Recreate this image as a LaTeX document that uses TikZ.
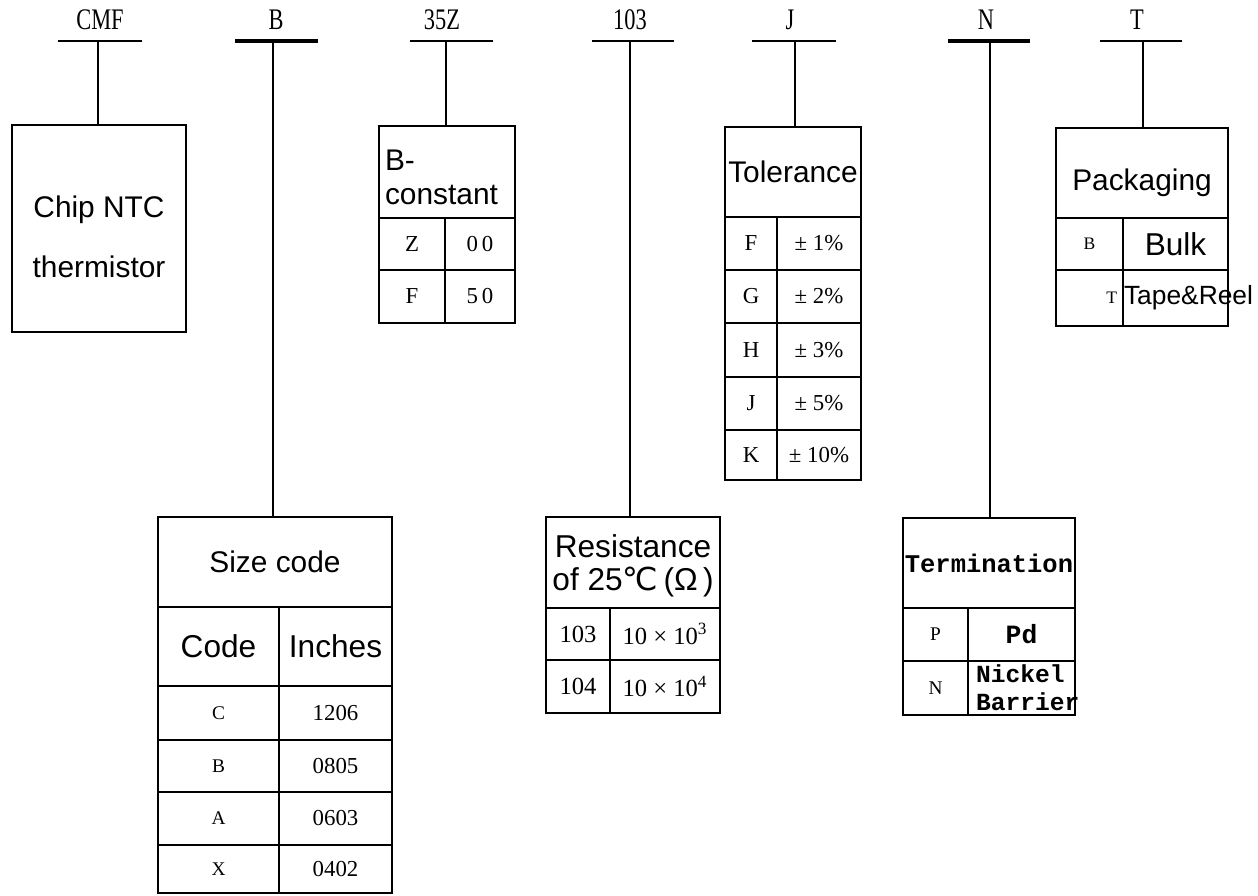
\documentclass[tikz,border=0pt]{standalone}
\usepackage{fontspec}
\setmainfont{Liberation Sans}
\newfontfamily\codefont[FakeStretch=0.75]{Liberation Serif}
\newfontfamily\entryfont{Liberation Serif}
\newfontfamily\termfont{Liberation Mono}
\newfontfamily\symfont{DejaVu Sans}
\usetikzlibrary{positioning}

\begin{document}
\begin{tikzpicture}[
  x=0.02cm, y=-0.02cm,
  font=\fontsize{17}{19}\selectfont,
  codelabel/.style={font=\codefont\fontsize{17}{19}\selectfont, inner sep=0pt},
  bar/.style={line width=1.7pt},
  stem/.style={line width=1.3pt},
  headbox/.style 2 args={rectangle, draw=black, line width=1.3pt, inner sep=0pt, minimum width=#1*0.2mm, minimum height=#2*0.2mm},
  cellbox/.style 2 args={rectangle, draw=black, line width=1.3pt, inner sep=0pt, minimum width=#1*0.2mm, minimum height=#2*0.2mm, font=\entryfont\fontsize{13}{15}\selectfont}
]
\useasboundingbox (0,0) rectangle (1258,896);

% code letters on top
\node[codelabel] (lCMF) at (100,20) {CMF};
\node[codelabel] (lB) at (276,20) {B};
\node[codelabel] (lBc) at (442,20) {35Z};
\node[codelabel] (lRes) at (630,20) {103};
\node[codelabel] (lTol) at (790,20) {J};
\node[codelabel] (lTerm) at (986,20) {N};
\node[codelabel] (lPack) at (1137,20) {T};

\coordinate (jCMF) at (98,41);
\coordinate (jB) at (273,41);
\coordinate (jBc) at (446,41);
\coordinate (jRes) at (630,41);
\coordinate (jTol) at (795,41);
\coordinate (jTerm) at (990,41);
\coordinate (jPack) at (1143,41);

\draw[bar] (jCMF) ++(-40,0) -- ++(84,0);
\draw[bar, line width=2.2pt] (jB) ++(-38,0) -- ++(83,0);
\draw[bar] (jBc) ++(-36,0) -- ++(83,0);
\draw[bar] (jRes) ++(-38,0) -- ++(82,0);
\draw[bar] (jTol) ++(-43,0) -- ++(84,0);
\draw[bar, line width=2pt] (jTerm) ++(-42,0) -- ++(82,0);
\draw[bar] (jPack) ++(-43,0) -- ++(82,0);

% CMF
\node[headbox={174}{207}, align=center, font=\fontsize{17}{34}\selectfont] (bCMF) at (99,228.5) {\rule{0pt}{22pt}Chip NTC\\thermistor};

% size code
\node[headbox={234}{90}] (bSize) at (275,562) {Size code};
\node[cellbox={121}{79}, font=\fontsize{18}{20}\selectfont] (sz0a) at (218.5,646.5) {Code};
\node[cellbox={113}{79}, font=\fontsize{18}{20}\selectfont] (sz0b) at (335.5,646.5) {Inches};
\node[cellbox={121}{54}, font=\entryfont\fontsize{11}{13}\selectfont] (sz1a) at (218.5,713) {C};
\node[cellbox={113}{54}] (sz1b) at (335.5,713) {1206};
\node[cellbox={121}{52}, font=\entryfont\fontsize{11}{13}\selectfont] (sz2a) at (218.5,766) {B};
\node[cellbox={113}{52}] (sz2b) at (335.5,766) {0805};
\node[cellbox={121}{53}, font=\entryfont\fontsize{11}{13}\selectfont] (sz3a) at (218.5,818.5) {A};
\node[cellbox={113}{53}] (sz3b) at (335.5,818.5) {0603};
\node[cellbox={121}{48}, font=\entryfont\fontsize{11}{13}\selectfont] (sz4a) at (218.5,869) {X};
\node[cellbox={113}{48}] (sz4b) at (335.5,869) {0402};

% B-constant
\node[headbox={136}{92}, align=left, text width=24.8mm, inner xsep=1.2mm, font=\fontsize{17}{19}\selectfont] (bBc) at (447,172) {\rule{0pt}{18pt}B-\\constant};
\node[cellbox={66}{52}] (bc1a) at (412,244) {Z};
\node[cellbox={70}{52}] (bc1b) at (480,244) {0\,0};
\node[cellbox={66}{53}] (bc2a) at (412,296.5) {F};
\node[cellbox={70}{53}] (bc2b) at (480,296.5) {5\,0};

% resistance
\node[headbox={174}{91}, align=center, font=\fontsize{18}{19}\selectfont] (bRes) at (633,562.5) {\rule{0pt}{17pt}Resistance\\of 25{\symfont ℃}\,(Ω\,)};
\node[cellbox={64}{52}, font=\entryfont\fontsize{14}{16}\selectfont] (rs1a) at (578,634) {103};
\node[cellbox={110}{52}, font=\entryfont\fontsize{14}{16}\selectfont] (rs1b) at (665,634) {10 × 10\textsuperscript{3}};
\node[cellbox={64}{53}, font=\entryfont\fontsize{14}{16}\selectfont] (rs2a) at (578,686.5) {104};
\node[cellbox={110}{53}, font=\entryfont\fontsize{14}{16}\selectfont] (rs2b) at (665,686.5) {10 × 10\textsuperscript{4}};

% tolerance
\node[headbox={136}{90}] (bTol) at (793,172) {Tolerance};
\node[cellbox={52}{53}] (tl1a) at (751,243.5) {F};
\node[cellbox={84}{53}] (tl1b) at (819,243.5) {± 1\%};
\node[cellbox={52}{53}] (tl2a) at (751,296.5) {G};
\node[cellbox={84}{53}] (tl2b) at (819,296.5) {± 2\%};
\node[cellbox={52}{54}] (tl3a) at (751,350) {H};
\node[cellbox={84}{54}] (tl3b) at (819,350) {± 3\%};
\node[cellbox={52}{53}] (tl4a) at (751,403.5) {J};
\node[cellbox={84}{53}] (tl4b) at (819,403.5) {± 5\%};
\node[cellbox={52}{50}] (tl5a) at (751,455) {K};
\node[cellbox={84}{50}] (tl5b) at (819,455) {± 10\%};

% termination
\node[headbox={172}{90}, font=\termfont\bfseries\fontsize{14.5}{16}\selectfont] (bTerm) at (989,563) {Termination};
\node[cellbox={65}{53}, font=\entryfont\fontsize{11}{13}\selectfont] (tm1a) at (935.5,634.5) {P};
\node[cellbox={107}{53}, font=\termfont\bfseries\fontsize{15}{16}\selectfont] (tm1b) at (1021.5,634.5) {Pd};
\node[cellbox={65}{54}, font=\entryfont\fontsize{11}{13}\selectfont] (tm2a) at (935.5,688) {N};
\node[cellbox={107}{54}, align=left, text width=18.2mm, inner xsep=1.6mm, font=\termfont\bfseries\fontsize{14}{16}\selectfont] (tm2b) at (1021.5,688) {Nickel\\Barrier};

% packaging
\node[headbox={172}{90}] (bPack) at (1142,173) {\rule{0pt}{24pt}Packaging};
\node[cellbox={67}{52}, font=\entryfont\fontsize{10}{12}\selectfont] (pk1a) at (1089.5,244) {B};
\node[cellbox={105}{52}, font=\fontsize{18}{20}\selectfont] (pk1b) at (1175.5,244) {Bulk};
\node[cellbox={67}{56}, align=right, text width=11mm, inner xsep=1.2mm, font=\entryfont\fontsize{10}{12}\selectfont] (pk2a) at (1089.5,298) {T};
\node[cellbox={105}{56}, align=left, text width=20.6mm, inner xsep=0.2mm, font=\fontsize{15}{17}\selectfont] (pk2b) at (1175.5,298) {Tape\&Reel};

% stems from the bars down to the boxes
\draw[stem] (jCMF) -- (jCMF |- bCMF.north);
\draw[stem] (jB) -- (jB |- bSize.north);
\draw[stem] (jBc) -- (jBc |- bBc.north);
\draw[stem] (jRes) -- (jRes |- bRes.north);
\draw[stem] (jTol) -- (jTol |- bTol.north);
\draw[stem] (jTerm) -- (jTerm |- bTerm.north);
\draw[stem] (jPack) -- (jPack |- bPack.north);
\end{tikzpicture}
\end{document}
